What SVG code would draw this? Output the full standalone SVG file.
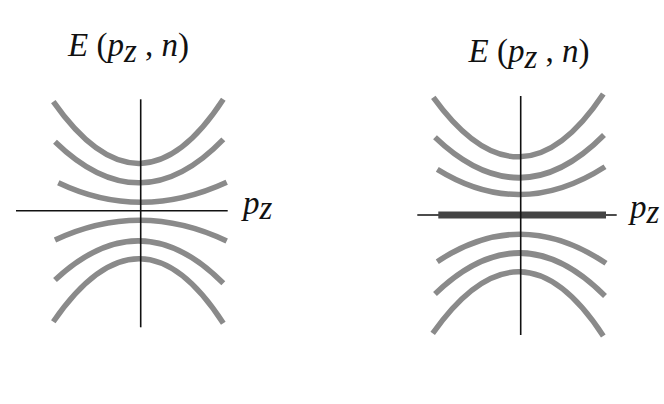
<svg xmlns="http://www.w3.org/2000/svg" width="664" height="404" viewBox="0 0 664 404">
<style>
.band{fill:none;stroke:#8a8a8a;stroke-width:5.5}
.axis{fill:none;stroke:#111;stroke-width:1.6}
.t{font-family:"Liberation Serif",serif;font-size:33px;fill:#111}
.i{font-style:italic}
</style>
<rect width="664" height="404" fill="#fff"/>
<g id="left-panel">
  <g id="left-bands">
    <path class="band" d="M53.3,101.7 Q140.7,226.3 223.3,99.3"/>
    <path class="band" d="M55,141.7 Q140.7,225 223.3,139.3"/>
    <path class="band" d="M58.3,182.7 Q140.7,222 226.7,182.3"/>
    <path class="band" d="M55,240 Q140.7,200 226.7,241"/>
    <path class="band" d="M55,280 Q140.7,200 223.3,283.3"/>
    <path class="band" d="M53.3,321.7 Q140.7,195 223.3,323.3"/>
  </g>
  <g id="left-axes">
    <line class="axis" x1="140.7" y1="99.3" x2="140.7" y2="327.3"/>
    <line class="axis" x1="16" y1="210.7" x2="227.7" y2="210.7"/>
  </g>
  <text id="left-title" class="t" font-family="Liberation Serif" x="68" y="56"><tspan class="i">E</tspan> (<tspan class="i">p</tspan><tspan class="i" dy="5.5">z</tspan><tspan dy="-5.5"> , </tspan><tspan class="i">n</tspan>)</text>
  <text id="left-pz" class="t" font-family="Liberation Serif" x="243" y="214"><tspan class="i">p</tspan><tspan class="i" dy="5">z</tspan></text>
</g>
<g id="right-panel">
  <g id="right-bands">
    <path class="band" d="M433.3,97.3 Q520.7,218 603.3,94"/>
    <path class="band" d="M435,137.3 Q520.7,219.3 604,135"/>
    <path class="band" d="M437.3,169.3 Q520.7,221 605,166.7"/>
    <path class="band" d="M437.3,261.7 Q520.7,206 606,263.3"/>
    <path class="band" d="M435,294 Q520.7,211 605,296"/>
    <path class="band" d="M432.7,333.3 Q520.7,209 603.3,336"/>
  </g>
  <g id="right-axes">
    <line class="axis" x1="417.3" y1="215" x2="616.7" y2="215"/>
    <rect x="438.3" y="211.5" width="167.7" height="7" fill="#444"/>
    <line class="axis" x1="520.7" y1="96" x2="520.7" y2="335"/>
  </g>
  <text id="right-title" class="t" font-family="Liberation Serif" x="468.5" y="62"><tspan class="i">E</tspan> (<tspan class="i">p</tspan><tspan class="i" dy="5.5">z</tspan><tspan dy="-5.5"> , </tspan><tspan class="i">n</tspan>)</text>
  <text id="right-pz" class="t" font-family="Liberation Serif" x="630" y="218"><tspan class="i">p</tspan><tspan class="i" dy="5">z</tspan></text>
</g>
</svg>
